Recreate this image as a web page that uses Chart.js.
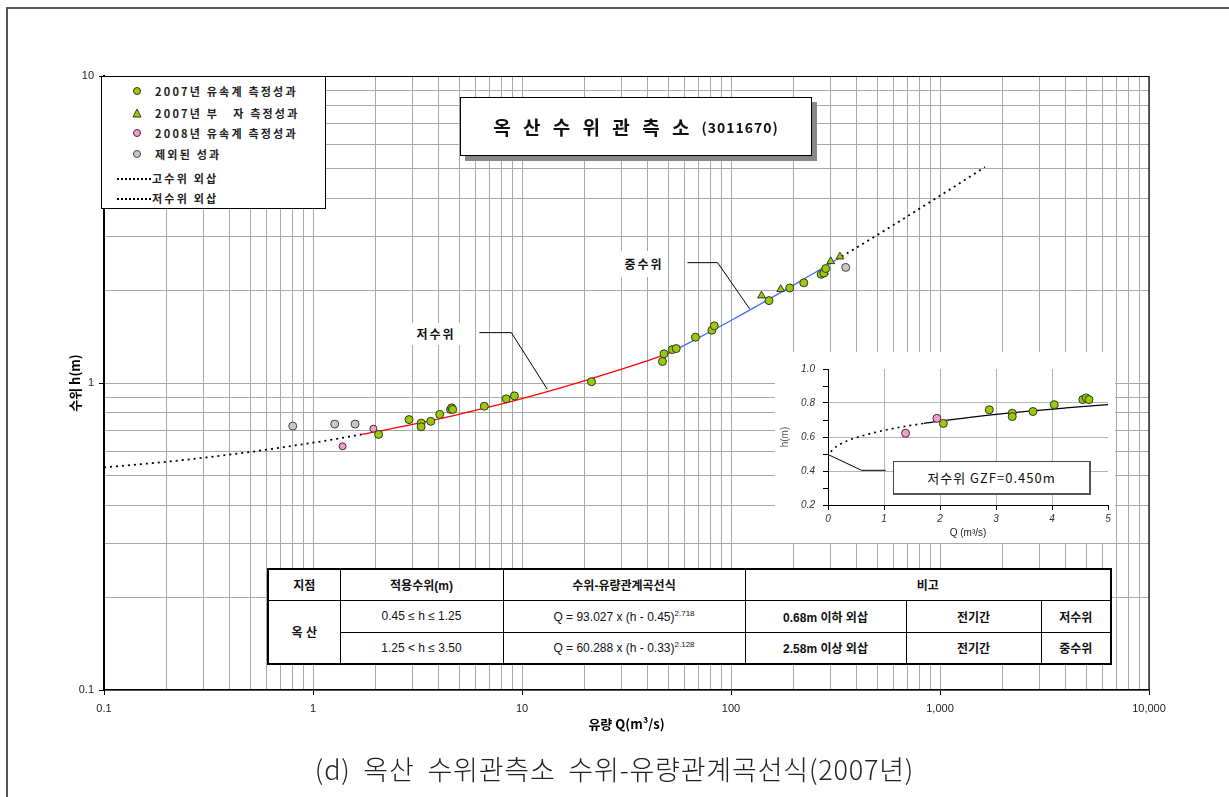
<!DOCTYPE html>
<html>
<head>
<meta charset="utf-8">
<script src="https://cdn.jsdelivr.net/npm/chart.js@4.4.0/dist/chart.umd.min.js"></script>
<style>
  body { margin: 0; background: #fff; font-family: "Noto Sans CJK KR", sans-serif; }
  #wrap { position: relative; width: 1229px; height: 797px; overflow: hidden; }
  #main { position: absolute; left: 0; top: 0; }
  #inset { position: absolute; left: 775px; top: 352px; background: #fff; }
  .frameTop { position: absolute; left: 6px; top: 7px; width: 1223px; height: 2px; background: #555; }
  .frameLeft { position: absolute; left: 6px; top: 7px; width: 2px; height: 790px; background: #555; }
  #legend { position: absolute; left: 101px; top: 76px; width: 225px; height: 133px; border: 1px solid #000;
            background: #fff; box-sizing: border-box; }
  .li { position: absolute; left: 0; height: 16px; line-height: 16px; width: 220px; }
  .li svg { position: absolute; left: 28px; top: 2px; }
  .li .lt { position: absolute; left: 53px; font-size: 11px; font-weight: bold; color: #222; letter-spacing: 2.2px; white-space: pre; }
  .li .dash { position: absolute; left: 15px; top: 8px; width: 34px; border-top: 2px dotted #000; }
  .li .lt2 { left: 50px; }
  #titleBox { position: absolute; left: 460px; top: 97px; width: 352px; height: 59px; border: 1px solid #000;
              background: #fff; box-shadow: 5px 5px 0 #888; box-sizing: border-box;
              display: flex; align-items: center; justify-content: center; }
  #titleBox .tk { font-size: 19px; font-weight: bold; letter-spacing: 4px; color: #111; }
  #titleBox .tn { font-size: 14px; font-weight: bold; letter-spacing: 1px; color: #111; margin-left: 8px; }
  .lbl { position: absolute; background: #fff; font-size: 12px; font-weight: bold; letter-spacing: 2px; color: #111;
         text-align: center; }
  #tbl { position: absolute; left: 267px; top: 568px; width: 843px; height: 96px; border-collapse: collapse;
         border: 2.5px solid #000; background: #fff; font-family: "Liberation Sans Narrow", "Liberation Sans", "Noto Sans CJK KR", sans-serif;
         font-size: 12px; color: #111; table-layout: fixed; }
  #tbl td { border: 1px solid #000; text-align: center; padding: 0; }
  #tbl .h td { font-weight: bold; }
  #tbl sup { font-size: 8px; }
  #gzf { position: absolute; left: 893px; top: 461px; width: 198px; height: 34px; border: 1px solid #444;
         border-right: 2px solid #555; border-bottom: 2px solid #555; background: #fff; box-sizing: border-box;
         font-size: 13px; letter-spacing: 1px; color: #111; display: flex; align-items: center; justify-content: center; }
  #caption { position: absolute; left: 0; width: 1229px; top: 749px; text-align: center; font-size: 27px;
             font-weight: 300; color: #222; letter-spacing: 0.8px; word-spacing: 6px; }
</style>
</head>
<body>
<div id="wrap">
  <canvas id="main" width="1229" height="797"></canvas>
  <div class="frameTop"></div>
  <div class="frameLeft"></div>

  <div id="legend">
    <div class="li" style="top:6px"><svg width="14" height="12"><circle cx="7" cy="6" r="3.5" fill="#99cc00" stroke="#333" stroke-width="1"/></svg><span class="lt">2007년 유속계 측정성과</span></div>
    <div class="li" style="top:28px"><svg width="14" height="12"><polygon points="7,2 11,10 3,10" fill="#99cc00" stroke="#333" stroke-width="1"/></svg><span class="lt">2007년 부   자 측정성과</span></div>
    <div class="li" style="top:48px"><svg width="14" height="12"><circle cx="7" cy="6" r="3.5" fill="#ff99cc" stroke="#333" stroke-width="1"/></svg><span class="lt">2008년 유속계 측정성과</span></div>
    <div class="li" style="top:69px"><svg width="14" height="12"><circle cx="7" cy="6" r="3.5" fill="#c8c8c8" stroke="#444" stroke-width="1"/></svg><span class="lt">제외된 성과</span></div>
    <div class="li" style="top:93px"><span class="dash"></span><span class="lt lt2">고수위 외삽</span></div>
    <div class="li" style="top:113px"><span class="dash"></span><span class="lt lt2">저수위 외삽</span></div>
  </div>

  <div id="titleBox"><span class="tk">옥 산 수 위 관 측 소</span><span class="tn">(3011670)</span></div>

  <div class="lbl" style="left:406px; top:323px; width:60px; height:22px; line-height:22px;">저수위</div>
  <div class="lbl" style="left:620px; top:251px; width:48px; height:26px; line-height:26px;">중수위</div>

  <canvas id="inset" width="340" height="191"></canvas>
  <div id="gzf">저수위 GZF=0.450m</div>

  <table id="tbl">
    <colgroup><col style="width:72px"><col style="width:163px"><col style="width:242px"><col style="width:161px"><col style="width:135px"><col style="width:70px"></colgroup>
    <tr class="h" style="height:31px"><td>지점</td><td>적용수위(m)</td><td>수위-유량관계곡선식</td><td colspan="3">비고</td></tr>
    <tr style="height:32px"><td rowspan="2" style="font-weight:bold">옥 산</td><td>0.45 ≤ h ≤ 1.25</td><td>Q = 93.027 x (h - 0.45)<sup>2.718</sup></td><td style="font-weight:bold">0.68m 이하 외삽</td><td style="font-weight:bold">전기간</td><td style="font-weight:bold">저수위</td></tr>
    <tr style="height:32px"><td>1.25 &lt; h ≤ 3.50</td><td>Q = 60.288 x (h - 0.33)<sup>2.128</sup></td><td style="font-weight:bold">2.58m 이상 외삽</td><td style="font-weight:bold">전기간</td><td style="font-weight:bold">중수위</td></tr>
  </table>

  <div id="caption">(d) 옥산 수위관측소 수위-유량관계곡선식(2007년)</div>
</div>

<script>
// 2007 current-meter measurements
const q2007 = [2.06, 2.88, 3.29, 3.29, 3.66, 4.04, 4.55, 4.61, 4.66, 6.6, 8.4, 9.2, 21.5,
  47, 47.8, 52.4, 54.7, 67.6, 81, 83.2, 152, 191, 223, 270, 278, 284];
const h2007 = [0.68, 0.76, 0.74, 0.72, 0.75, 0.79, 0.82, 0.83, 0.82, 0.84, 0.888, 0.908, 1.01,
  1.175, 1.245, 1.285, 1.295, 1.41, 1.485, 1.535, 1.855, 2.04, 2.12, 2.26, 2.28, 2.36];
// 2007 float measurements
const q2007float = [140, 173, 280, 300, 332];
const h2007float = [1.925, 2.02, 2.30, 2.49, 2.58];
// 2008 current-meter measurements
const q2008 = [1.385, 1.945];
const h2008 = [0.622, 0.71];
// excluded
const qExcl = [0.8, 1.27, 1.59, 354];
const hExcl = [0.724, 0.735, 0.735, 2.38];

// rating curves
const lowExtQ = [0.1, 0.2, 0.3, 0.5, 0.7, 1.0, 1.3, 1.71];
const lowExtH = [0.531, 0.554, 0.571, 0.596, 0.616, 0.639, 0.658, 0.680];
const lowQ = [1.71, 2, 3, 5, 7, 10, 15, 20, 30, 40, 50.7];
const lowH = [0.680, 0.694, 0.733, 0.791, 0.836, 0.890, 0.961, 1.018, 1.109, 1.183, 1.25];
const midQ = [50.5, 70, 100, 150, 200, 250, 300, 338.6];
const midH = [1.25, 1.403, 1.598, 1.865, 2.087, 2.281, 2.456, 2.58];
const highExtQ = [338.6, 500, 700, 1000, 1300, 1640];
const highExtH = [2.58, 3.032, 3.495, 4.073, 4.564, 5.052];

// inset (linear) curve
const insetDotQ = [0.05, 0.1, 0.2, 0.35, 0.6, 1.0, 1.4, 1.71];
const insetDotH = [0.513, 0.531, 0.554, 0.578, 0.606, 0.639, 0.664, 0.680];
const insetLineQ = [1.71, 2.5, 3.5, 4.25, 5, 5.07];
const insetLineH = [0.680, 0.714, 0.749, 0.771, 0.791, 0.793];

// axis ticks
const xTickValues = [0.1, 1, 10, 100, 1000, 10000];
const xTickLabels = ['0.1', '1', '10', '100', '1,000', '10,000'];
const yTickValues = [0.1, 1, 10];
const yTickLabels = ['0.1', '1', '10'];
const insetXTicks = [0, 1, 2, 3, 4, 5];
const insetYLabels = ['0.2', '0.4', '0.6', '0.8', '1.0'];

const pts = (qs, hs) => qs.map((q, i) => ({ x: q, y: hs[i] }));

function logGrid(majors) {
  const out = [];
  majors.forEach((m, i) => {
    out.push(m);
    if (i < majors.length - 1) {
      for (let k = 2; k <= 9; k++) out.push(+(m * k).toPrecision(4));
    }
  });
  return out;
}

const tickFont = { family: 'Liberation Sans', size: 11 };
const titleFont = { family: 'Noto Sans CJK KR', size: 13, weight: 'bold' };

// leader lines for the 저수위 / 중수위 labels, in data units
const leaders = [
  [[6.25, 1.459], [8.89, 1.459], [13.2, 0.955]],
  [[61.9, 2.466], [86.3, 2.466], [122.7, 1.745]]
];

const frameAndLeaders = {
  id: 'frameAndLeaders',
  afterDatasetsDraw(chart) {
    const { ctx, chartArea: a, scales } = chart;
    ctx.save();
    ctx.strokeStyle = '#000';
    ctx.lineWidth = 1;
    leaders.forEach(line => {
      ctx.beginPath();
      line.forEach(([q, h], i) => {
        const px = scales.x.getPixelForValue(q), py = scales.y.getPixelForValue(h);
        i ? ctx.lineTo(px, py) : ctx.moveTo(px, py);
      });
      ctx.stroke();
    });
    ctx.lineWidth = 1.2;
    ctx.beginPath();
    ctx.moveTo(a.left, a.top + 0.5);
    ctx.lineTo(a.right, a.top + 0.5);
    ctx.lineTo(a.right, a.bottom);
    ctx.stroke();
    ctx.restore();
  }
};

const curve = (data, color, dash, width) => ({
  data, showLine: true, pointRadius: 0, borderColor: color, borderWidth: width,
  borderDash: dash, cubicInterpolationMode: 'monotone', fill: false
});

new Chart(document.getElementById('main').getContext('2d'), {
  type: 'scatter',
  data: {
    datasets: [
      { data: pts(q2007, h2007), pointStyle: 'circle', pointRadius: 4, backgroundColor: '#99cc00', borderColor: '#333', borderWidth: 1 },
      { data: pts(q2007float, h2007float), pointStyle: 'triangle', pointRadius: 4.5, backgroundColor: '#99cc00', borderColor: '#333', borderWidth: 1 },
      { data: pts(q2008, h2008), pointStyle: 'circle', pointRadius: 3.5, backgroundColor: '#ff99cc', borderColor: '#333', borderWidth: 1 },
      { data: pts(qExcl, hExcl), pointStyle: 'circle', pointRadius: 4, backgroundColor: '#c8c8c8', borderColor: '#444', borderWidth: 1 },
      curve(pts(lowQ, lowH), '#ff0000', [], 1.3),
      curve(pts(midQ, midH), '#3f6fff', [], 1.3),
      curve(pts(lowExtQ, lowExtH), '#000', [2, 4], 1.8),
      curve(pts(highExtQ, highExtH), '#000', [2, 4], 1.8)
    ]
  },
  options: {
    responsive: false,
    animation: false,
    devicePixelRatio: 1,
    layout: { padding: { left: 63, right: 80, top: 76, bottom: 61 } },
    plugins: { legend: { display: false }, tooltip: { enabled: false } },
    scales: {
      x: {
        type: 'logarithmic', min: 0.1, max: 10000,
        afterBuildTicks: s => { s.ticks = logGrid(xTickValues).map(v => ({ value: v })); },
        afterFit: s => { s.height = 46; },
        ticks: {
          autoSkip: false, maxRotation: 0, padding: 7, color: '#222', font: tickFont,
          callback: v => { const i = xTickValues.indexOf(v); return i >= 0 ? xTickLabels[i] : ''; }
        },
        grid: {
          color: '#a8a8a8', lineWidth: 1, tickLength: 5,
          tickColor: c => (c.tick && xTickValues.includes(c.tick.value)) ? '#000' : 'rgba(0,0,0,0)'
        },
        border: { color: '#000', width: 1.5 },
        title: { display: true, text: '유량 Q(m³/s)', font: titleFont, color: '#000', padding: { top: 4, bottom: 4 } }
      },
      y: {
        type: 'logarithmic', min: 0.1, max: 10,
        afterBuildTicks: s => { s.ticks = logGrid(yTickValues).map(v => ({ value: v })); },
        afterFit: s => { s.width = 41; },
        ticks: {
          autoSkip: false, padding: 5, color: '#222', font: tickFont,
          callback: v => { const i = yTickValues.indexOf(v); return i >= 0 ? yTickLabels[i] : ''; }
        },
        grid: {
          color: '#a8a8a8', lineWidth: 1, tickLength: 5,
          tickColor: c => (c.tick && yTickValues.includes(c.tick.value)) ? '#000' : 'rgba(0,0,0,0)'
        },
        border: { color: '#000', width: 2 },
        title: { display: true, text: '수위 h(m)', font: titleFont, color: '#000', padding: { top: 4, bottom: 4 } }
      }
    }
  },
  plugins: [frameAndLeaders]
});

// inset: low-flow part on linear axes
const insetLeader = [[0, 0.497], [0.6, 0.404], [1.03, 0.404]];
const insetLeaderPlugin = {
  id: 'insetLeader',
  afterDatasetsDraw(chart) {
    const { ctx, scales } = chart;
    ctx.save();
    ctx.strokeStyle = '#000';
    ctx.lineWidth = 1;
    ctx.beginPath();
    insetLeader.forEach(([q, h], i) => {
      const px = scales.x.getPixelForValue(q), py = scales.y.getPixelForValue(h);
      i ? ctx.lineTo(px, py) : ctx.moveTo(px, py);
    });
    ctx.stroke();
    ctx.restore();
  }
};

const near = (v, list) => list.some(t => Math.abs(v - t) < 1e-6);
const insetTickFont = { family: 'Liberation Sans', size: 10, style: 'italic' };

new Chart(document.getElementById('inset').getContext('2d'), {
  type: 'scatter',
  data: {
    datasets: [
      { data: pts(q2007, h2007).filter(p => p.x <= 5), pointRadius: 4, backgroundColor: '#99cc00', borderColor: '#333', borderWidth: 1 },
      { data: pts(q2008, h2008), pointRadius: 4, backgroundColor: '#ff99cc', borderColor: '#333', borderWidth: 1 },
      curve(pts(insetLineQ, insetLineH), '#000', [], 1.2),
      curve(pts(insetDotQ, insetDotH), '#000', [2, 4], 1.6)
    ]
  },
  options: {
    responsive: false,
    animation: false,
    devicePixelRatio: 1,
    layout: { padding: { left: 0, right: 7, top: 17, bottom: 0 } },
    plugins: { legend: { display: false }, tooltip: { enabled: false } },
    scales: {
      x: {
        type: 'linear', min: 0, max: 5,
        afterBuildTicks: s => { s.ticks = insetXTicks.map(v => ({ value: v })); },
        afterFit: s => { s.height = 38; },
        ticks: { color: '#333', font: insetTickFont, padding: 3, maxRotation: 0 },
        grid: { color: c => (c.tick && near(c.tick.value, [1, 2, 3, 4])) ? '#b4b4b4' : 'rgba(0,0,0,0)', tickLength: 5, tickColor: '#000' },
        border: { color: '#000', width: 1 },
        title: { display: true, text: 'Q (m³/s)', color: '#222', font: { family: 'Liberation Sans', size: 10 }, padding: { top: 2, bottom: 4 } }
      },
      y: {
        type: 'linear', min: 0.2, max: 1.0,
        afterBuildTicks: s => { s.ticks = [0.2, 0.3, 0.4, 0.5, 0.6, 0.7, 0.8, 0.9, 1.0].map(v => ({ value: v })); },
        afterFit: s => { s.width = 53; },
        ticks: {
          color: '#333', font: insetTickFont, padding: 8,
          callback: v => { const i = [0.2, 0.4, 0.6, 0.8, 1.0].findIndex(t => Math.abs(t - v) < 1e-6); return i >= 0 ? insetYLabels[i] : ''; }
        },
        grid: { color: c => (c.tick && near(c.tick.value, [0.4, 0.6, 0.8])) ? '#b4b4b4' : 'rgba(0,0,0,0)', tickLength: 5, tickColor: '#000' },
        border: { color: '#000', width: 1 },
        title: { display: true, text: 'h(m)', color: '#555', font: { family: 'Liberation Sans', size: 10 }, padding: { top: 4, bottom: 2 } }
      }
    }
  },
  plugins: [insetLeaderPlugin]
});
</script>
</body>
</html>
